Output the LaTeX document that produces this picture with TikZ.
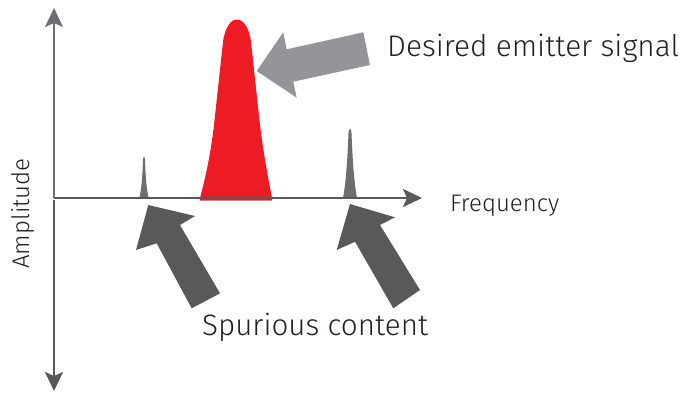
\documentclass[tikz,border=0pt]{standalone}
\usepackage{fontspec}
\setmainfont{Fira Sans Light}
\usetikzlibrary{arrows.meta}
\definecolor{axisdark}{HTML}{58595B}
\definecolor{axislight}{HTML}{6D6E71}
\definecolor{spurgray}{HTML}{6D6E71}
\definecolor{blockdark}{HTML}{58595B}
\definecolor{blocklight}{HTML}{939598}
\definecolor{sigred}{HTML}{ED1C24}
\definecolor{inktext}{HTML}{231F20}
\begin{document}
\begin{tikzpicture}[x=1pt,y=-1pt,
  axistip/.style={-{Stealth[length=19pt,width=18pt,inset=4pt]}},
  label/.style={inner sep=0pt,anchor=base west,text=inktext},
  blockarrow/.style={fill=blockdark,draw=none},
  spur/.style={fill=spurgray,draw=none}]
\useasboundingbox (0,0) rectangle (680,392);

% axis end points
\coordinate (origin) at (54,198);
\coordinate (ytop) at (54,8);
\coordinate (ybot) at (54,391);
\coordinate (xend) at (422,198);
\coordinate (lowstart) at (54,200);

% desired signal (red peak)
\fill[sigred] (200,200.5) -- (200,198)
  .. controls (207,172) and (211,150) .. (214,125)
  -- (223,42) .. controls (227,12) and (247,12) .. (251,42)
  -- (260,125) .. controls (263,150) and (267,172) .. (272,198)
  -- (272,200.5) -- cycle;

% spurious spikes
\fill[spur] (139.5,198) .. controls (142,185) and (142.6,172) .. (143,160)
  .. controls (143.4,155) and (144.6,155) .. (145,160)
  .. controls (145.4,172) and (146,185) .. (148.5,198) -- cycle;
\fill[spur] (343,198) .. controls (346.5,180) and (347.8,150) .. (348.5,133)
  .. controls (349,127.5) and (351,127.5) .. (351.5,133)
  .. controls (352.2,150) and (353.5,180) .. (357,198) -- cycle;

% axes
\draw[axislight,line width=1.3pt,axistip] (origin) -- (ytop);
\draw[axisdark,line width=2.2pt,axistip] (lowstart) -- (ybot);
\draw[axisdark,line width=2.2pt,axistip] (origin) -- (xend);

% block arrow towards the desired signal
\fill[blocklight] (256.7,71) -- (283.3,32.3) -- (286.7,49.3) -- (363.3,32.3)
  -- (370,65) -- (293.3,81.7) -- (296.7,97.7) -- cycle;

% block arrows towards the spurious spikes
\fill[blockdark] (148.3,205) -- (195,216) -- (180,225) -- (220,293.3)
  -- (191.7,308.3) -- (156.7,243.3) -- (136,250) -- cycle;
\fill[blockdark] (350,204) -- (395,217.3) -- (380,225) -- (420,290)
  -- (393.3,308.3) -- (355,241.7) -- (336.7,250) -- cycle;

% labels
\node[label,font=\fontsize{29.8}{34}\selectfont] (desired) at (387,56.7) {Desired emitter signal};
\node[label,font=\fontsize{29.6}{34}\selectfont] (spurious) at (202,335) {Spurious content};
\node[label,font=\fontsize{24}{28}\selectfont] (freq) at (450,211) {Frequency};
\node[inner sep=0pt,text=inktext,rotate=90,font=\fontsize{24}{28}\selectfont] (ampl) at (23,213.5) {Amplitude};
\end{tikzpicture}
\end{document}
